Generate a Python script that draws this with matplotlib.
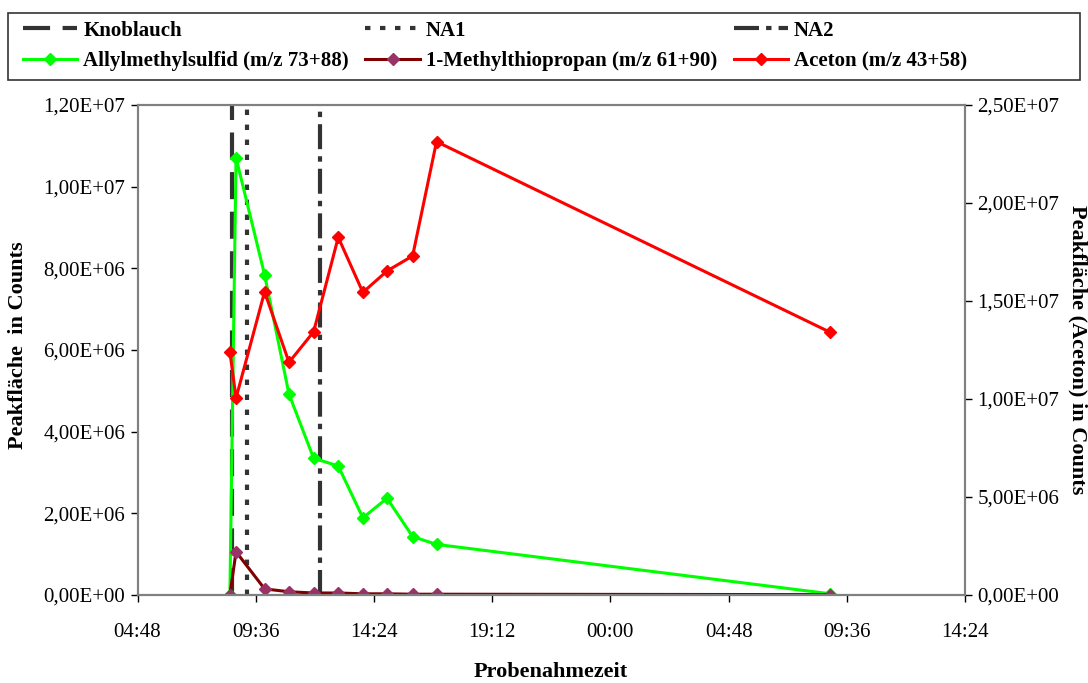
import matplotlib
matplotlib.use("Agg")
import matplotlib.pyplot as plt
from matplotlib.lines import Line2D
from matplotlib.patches import Rectangle
from matplotlib.ticker import FixedLocator, FuncFormatter

# sampling times in hours after midnight of day 1
hours = [8.55, 8.80, 9.96, 10.95, 11.95, 12.95, 13.95, 14.93, 15.97, 16.94, 32.93]

allyl = [0.0, 10.71e6, 7.84e6, 4.92e6, 3.35e6, 3.16e6, 1.89e6, 2.37e6, 1.43e6, 1.24e6, 0.03e6]
methylthio = [0.0, 1.06e6, 0.15e6, 0.08e6, 0.05e6, 0.05e6, 0.03e6, 0.03e6, 0.02e6, 0.02e6, 0.01e6]
aceton = [12.41e6, 10.05e6, 15.47e6, 11.87e6, 13.43e6, 18.25e6, 15.44e6, 16.53e6, 17.30e6, 23.13e6, 13.40e6]

events = {"Knoblauch": 8.62, "NA1": 9.23, "NA2": 12.22}

tick_hours = [4.8, 9.6, 14.4, 19.2, 24.0, 28.8, 33.6, 38.4]
tick_labels = ["04:48", "09:36", "14:24", "19:12", "00:00", "04:48", "09:36", "14:24"]

plt.rcParams["font.family"] = ["Liberation Serif", "DejaVu Serif"]

GREEN = "#00ff00"
DARKRED = "#800000"
PURPLE = "#993366"
RED = "#ff0000"
GREY = "#333333"


def sci_comma(v, _pos):
    s = f"{v:.2E}"
    return s.replace(".", ",")


fig = plt.figure(figsize=(10.88, 6.83), dpi=100)
ax = fig.add_axes([0.1264, 0.1288, 0.7606, 0.7175])
ax2 = ax.twinx()

styles = {"Knoblauch": (0, (6.5, 3)), "NA1": (0, (1.3, 2.3)), "NA2": (0, (6, 1.7, 1.3, 1.7))}
for name, t in events.items():
    ax.axvline(t, color=GREY, lw=3, ls=styles[name], zorder=2)

ax.plot(hours, allyl, color=GREEN, lw=2.2, marker="D", ms=6.5, mfc=GREEN, mec=GREEN, zorder=4)
ax.plot(hours, methylthio, color=DARKRED, lw=2.2, marker="D", ms=6.5, mfc=PURPLE, mec=PURPLE, zorder=5)
ax2.plot(hours, aceton, color=RED, lw=2.2, marker="D", ms=6.5, mfc=RED, mec=RED, zorder=4)

ax.set_xlim(4.8, 38.4)
ax.set_ylim(0, 1.2e7)
ax2.set_ylim(0, 2.5e7)
ax.xaxis.set_major_locator(FixedLocator(tick_hours))
ax.set_xticklabels(tick_labels)
ax.set_yticks([i * 2e6 for i in range(7)])
ax2.set_yticks([i * 5e6 for i in range(6)])
ax.yaxis.set_major_formatter(FuncFormatter(sci_comma))
ax2.yaxis.set_major_formatter(FuncFormatter(sci_comma))

for a in (ax, ax2):
    for sp in a.spines.values():
        sp.set_color("#808080")
        sp.set_linewidth(1.5)
    a.tick_params(labelsize=15, length=5, width=1, colors="black", pad=4)
ax.tick_params(axis="x", pad=15)
ax.spines["bottom"].set_color("#555555")

# axis titles placed in figure coordinates
fig.text(0.5064, 0.0161, "Probenahmezeit", fontsize=16, fontweight="bold",
         ha="center", va="center")
fig.text(0.0165, 0.4949, "Peakfläche  in Counts", fontsize=16, fontweight="bold",
         rotation=90, ha="center", va="center")
fig.text(0.9908, 0.4876, "Peakfläche (Aceton) in Counts", fontsize=16, fontweight="bold",
         rotation=270, ha="center", va="center")

handles = [
    Line2D([], [], color=GREY, lw=3, ls=styles["Knoblauch"]),
    Line2D([], [], color=GREY, lw=3, ls=styles["NA1"]),
    Line2D([], [], color=GREY, lw=3, ls=styles["NA2"]),
    Line2D([], [], color=GREEN, lw=2.2, marker="D", ms=6.5, mfc=GREEN, mec=GREEN),
    Line2D([], [], color=DARKRED, lw=2.2, marker="D", ms=6.5, mfc=PURPLE, mec=PURPLE),
    Line2D([], [], color=RED, lw=2.2, marker="D", ms=6.5, mfc=RED, mec=RED),
]
labels = ["Knoblauch", "NA1", "NA2",
          "Allylmethylsulfid (m/z 73+88)", "1-Methylthiopropan (m/z 61+90)", "Aceton (m/z 43+58)"]
# row-major ordering for a 3-column legend
order = [0, 3, 1, 4, 2, 5]
fig.legend([handles[i] for i in order], [labels[i] for i in order], ncol=3,
           loc="center", bbox_to_anchor=(0.021, 0.9327, 0.868, 0), mode="expand",
           frameon=False, prop={"size": 15, "weight": "bold"}, handlelength=2.6,
           handletextpad=0.3, borderaxespad=0, borderpad=0, labelspacing=0.5)
# frame around the legend spans the full figure width
fig.patches.append(Rectangle((0.00735, 0.8829), 0.9853, 0.0981, transform=fig.transFigure,
                             fill=False, edgecolor=GREY, linewidth=1.2))

fig.savefig("out.png", dpi=100)
